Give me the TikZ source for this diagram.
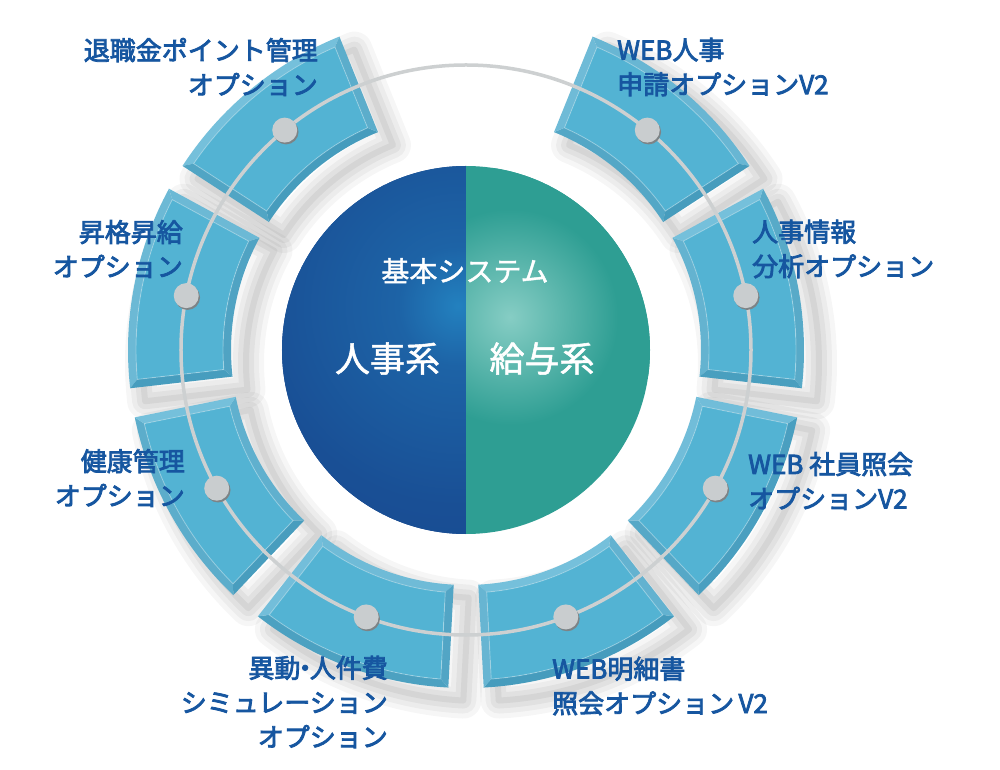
\documentclass[tikz,border=0pt]{standalone}
\usepackage{fontspec}
\newfontfamily\jp{Noto Sans CJK JP}[FakeBold=1.5]
\newfontfamily\jpb{Noto Sans CJK JP}[FakeBold=3]
\definecolor{tileface}{HTML}{53B3D3}
\definecolor{bevl}{HTML}{86CDE6}
\definecolor{bevd}{HTML}{3690B3}
\definecolor{labc}{HTML}{1656A0}
\definecolor{ringc}{HTML}{CDD0D1}
\definecolor{dotc}{HTML}{C9CDCF}
\definecolor{dotsh}{HTML}{7D8386}
\definecolor{bluebase}{HTML}{12408A}
\definecolor{bluemid}{HTML}{194F95}
\definecolor{blueglow}{HTML}{2381BF}
\definecolor{bluemix}{HTML}{1D63A6}
\definecolor{tealbase}{HTML}{2E9E93}
\definecolor{tealglow}{HTML}{86CDC4}
\pgfdeclareradialshading{blueshade}{\pgfpoint{0bp}{0bp}}{color(0bp)=(blueglow); color(6bp)=(bluemix); color(20bp)=(bluemid); color(50bp)=(bluebase)}
\pgfdeclareradialshading{tealshade}{\pgfpoint{0bp}{0bp}}{color(0bp)=(tealglow); color(18bp)=(tealbase); color(50bp)=(tealbase)}
\tikzset{
  lab/.style={font=\jpb\fontsize{26}{34.5}\selectfont, text=labc, inner sep=0pt},
  centertext/.style={font=\jp\fontsize{#1}{#1}\selectfont, text=white, inner sep=0pt},
  dotnode/.style={circle, minimum size=25pt, inner sep=0pt, fill=dotc},
}
\begin{document}
\begin{tikzpicture}[x=1pt,y=1pt]
\useasboundingbox (-466,-420) rectangle (534,350);
\fill[white] (-466,-420) rectangle (534,350);
\coordinate (ctr) at (0,0);
% shadows of the tiles
\foreach \c in {129.5,169,209,249.5,290.5,331,11,50.5}{
  \pgfmathsetmacro\A{\c-17.5}
  \pgfmathsetmacro\B{\c+17.5}
  \begin{scope}[shift={(15,-13)}]
    \foreach \w/\o in {36/0.035,26/0.04,16/0.045,6/0.05}{
      \draw[line width=\w pt, black, opacity=\o, line join=round]
        (\A:338pt) arc[start angle=\A,end angle=\B,radius=338pt]
        -- (\B:235pt) arc[start angle=\B,end angle=\A,radius=235pt] -- cycle;
    }
  \end{scope}
}
% tiles
\foreach \c in {129.5,169,209,249.5,290.5,331,11,50.5}{
  \pgfmathsetmacro\A{\c-17.5}
  \pgfmathsetmacro\B{\c+17.5}
  \pgfmathsetmacro\Ao{\A+1.39}
  \pgfmathsetmacro\Bo{\B-1.39}
  \pgfmathsetmacro\Ai{\A+1.89}
  \pgfmathsetmacro\Bi{\B-1.89}
  \pgfmathtruncatemacro\pO{50+30*cos(\c-115)}
  \pgfmathtruncatemacro\pI{50+30*cos(\c+65)}
  \pgfmathtruncatemacro\pA{50+30*cos(\A-205)}
  \pgfmathtruncatemacro\pB{50+30*cos(\B-25)}
  \fill[bevl!\pO!bevd] (\A:338pt) arc[start angle=\A,end angle=\B,radius=338pt]
     -- (\Bo:330pt) arc[start angle=\Bo,end angle=\Ao,radius=330pt] -- cycle;
  \fill[bevl!\pI!bevd] (\A:235pt) arc[start angle=\A,end angle=\B,radius=235pt]
     -- (\Bi:243pt) arc[start angle=\Bi,end angle=\Ai,radius=243pt] -- cycle;
  \fill[bevl!\pA!bevd] (\A:338pt) -- (\A:235pt) -- (\Ai:243pt) -- (\Ao:330pt) -- cycle;
  \fill[bevl!\pB!bevd] (\B:338pt) -- (\B:235pt) -- (\Bi:243pt) -- (\Bo:330pt) -- cycle;
  \fill[tileface] (\Ao:330pt) arc[start angle=\Ao,end angle=\Bo,radius=330pt]
     -- (\Bi:243pt) arc[start angle=\Bi,end angle=\Ai,radius=243pt] -- cycle;
  \draw[white, opacity=0.3, line width=0.9pt] (\Ao:330pt) arc[start angle=\Ao,end angle=\Bo,radius=330pt]
     -- (\Bi:243pt) arc[start angle=\Bi,end angle=\Ai,radius=243pt] -- cycle;
}
% ring line
\draw[ringc, line width=3.5pt] (ctr) circle (285pt);
% dots
\foreach \c [count=\i] in {129.5,169,209,249.5,290.5,331,11,50.5}{
  \fill[dotsh, shift={(\c:285pt)}] (1.3,-1.8) circle (12.5pt);
  \node[dotnode] (dot\i) at (\c:285pt) {};
}
% central disc
\begin{scope}
  \clip (ctr) circle (184pt);
  \fill[bluebase] (-190,-190) rectangle (0,190);
  \begin{scope}
    \clip (-190,-190) rectangle (0,190);
    \shade[shading=blueshade] (-8,44) circle (250pt);
  \end{scope}
  \fill[tealbase] (0,-190) rectangle (190,190);
  \begin{scope}
    \clip (0,-190) rectangle (190,190);
    \shade[shading=tealshade] (44,33) circle (150pt);
  \end{scope}
\end{scope}
\node[centertext=28] (kihon) at (-1,79) {基本システム};
\node[centertext=35] (jinji) at (-78.5,-8.5) {人事系};
\node[centertext=35] (kyuyo) at (76,-8.5) {給与系};
% labels
\node[lab, anchor=east, align=right] (l1) at (-148,283) {退職金ポイント管理\\オプション};
\node[lab, anchor=west, align=left] (l2) at (151,283) {WEB人事\\申請オプションV2};
\node[lab, anchor=west, align=left] (l3) at (286,101) {人事情報\\分析オプション};
\node[lab, anchor=east, align=right] (l4) at (-283,101) {昇格昇給\\オプション};
\node[lab, anchor=east, align=right] (l5) at (-281,-128) {健康管理\\オプション};
\node[lab, anchor=west, align=left] (l6) at (282,-131) {WEB 社員照会\\オプションV2};
\node[lab, anchor=east, align=right] (l7) at (-78,-352) {異動\hspace{-0.32em}・\hspace{-0.32em}人件費\\シミュレーション\\オプション};
\node[lab, anchor=west, align=left] (l8) at (86,-336) {WEB明細書\\照会オプション\,V2};
\end{tikzpicture}
\end{document}
